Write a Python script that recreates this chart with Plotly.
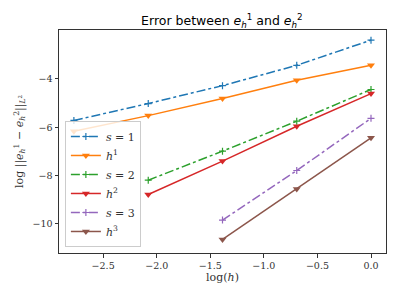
import plotly.graph_objects as go

log_h = [-2.773, -2.079, -1.386, -0.693, 0.0]

s1 = [-5.72, -5.02, -4.28, -3.44, -2.40]
h1 = [-6.17, -5.52, -4.81, -4.06, -3.44]
s2 = [-8.19, -6.99, -5.75, -4.44]
h2 = [-8.78, -7.40, -5.96, -4.61]
s3 = [-9.84, -7.79, -5.63]
h3 = [-10.64, -8.55, -6.44]

series = [
    ("<i>s</i> = 1", log_h, s1, "#1f77b4", "dashdot", "cross-thin"),
    ("<i>h</i><sup>1</sup>", log_h, h1, "#ff7f0e", "solid", "triangle-down"),
    ("<i>s</i> = 2", log_h[1:], s2, "#2ca02c", "dashdot", "cross-thin"),
    ("<i>h</i><sup>2</sup>", log_h[1:], h2, "#d62728", "solid", "triangle-down"),
    ("<i>s</i> = 3", log_h[2:], s3, "#9467bd", "dashdot", "cross-thin"),
    ("<i>h</i><sup>3</sup>", log_h[2:], h3, "#8c564b", "solid", "triangle-down"),
]

fig = go.Figure()
for name, x, y, c, dash, sym in series:
    if sym == "cross-thin":
        marker = dict(symbol=sym, size=5, color=c, line=dict(color=c, width=1.2))
    else:
        marker = dict(symbol=sym, size=7, color=c, line=dict(width=0))
    fig.add_trace(go.Scatter(
        x=x, y=y, name=name, mode="lines+markers",
        line=dict(color=c, width=1.5, dash=dash),
        marker=marker,
    ))

axis_common = dict(
    showline=True, linecolor="#333", linewidth=1, mirror=True,
    ticks="outside", ticklen=3.5, tickcolor="#333", showgrid=False, zeroline=False,
    tickfont=dict(family="DejaVu Serif", size=9.5, color="#333"),
)

fig.update_layout(
    width=391, height=291,
    margin=dict(l=51, r=13, t=22, b=46),
    paper_bgcolor="white", plot_bgcolor="white",
    title=dict(text="Error between <i>e</i><sub><i>h</i></sub><sup>1</sup> and <i>e</i><sub><i>h</i></sub><sup>2</sup>",
               x=0.547, xanchor="center", y=0.955, yanchor="middle",
               font=dict(family="DejaVu Sans", size=12.5, color="black")),
    xaxis=dict(range=[-2.912, 0.14], tickvals=[-2.5, -2.0, -1.5, -1.0, -0.5, 0.0],
               tickformat=".1f",
               title=dict(text="log(<i>h</i>)", standoff=2,
                          font=dict(family="DejaVu Serif", size=11, color="#333")),
               **axis_common),
    yaxis=dict(range=[-11.2, -1.98], tickvals=[-10, -8, -6, -4],
               title=dict(text="log ||<i>e</i><sub><i>h</i></sub><sup>1</sup> − <i>e</i><sub><i>h</i></sub><sup>2</sup>||<sub><i>L</i><sup>2</sup></sub>",
                          standoff=6,
                          font=dict(family="DejaVu Serif", size=11, color="#333")),
               **axis_common),
    legend=dict(x=0.018, y=0.027, xanchor="left", yanchor="bottom",
                bgcolor="rgba(255,255,255,0.8)", bordercolor="#ccc", borderwidth=1,
                font=dict(family="DejaVu Serif", size=11, color="#333"),
                tracegroupgap=0, itemwidth=30),
    showlegend=True,
)

fig.write_html("out.html")
